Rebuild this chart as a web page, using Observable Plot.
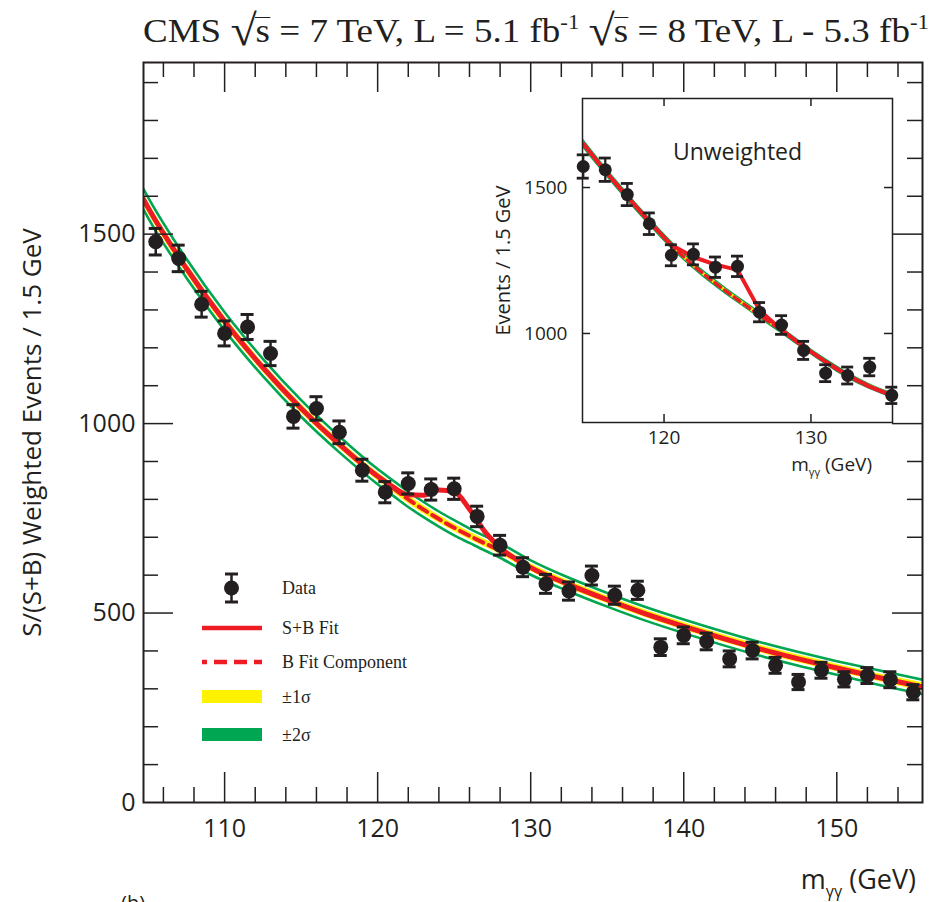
<!DOCTYPE html>
<html><head><meta charset="utf-8">
<script src="https://cdn.jsdelivr.net/npm/d3@7"></script>
<script src="https://cdn.jsdelivr.net/npm/@observablehq/plot@0.6"></script>
<style>
body{margin:0;background:#fff;}
#wrap{position:relative;width:937px;height:902px;overflow:hidden;background:#fff;}
#title{position:absolute;left:143px;top:8px;font-family:"Liberation Serif";font-size:34px;line-height:40px;white-space:nowrap;color:#231f20;transform-origin:0 0;}
#title sup{font-size:21px;vertical-align:13px;line-height:0;}
#title .r{font-size:44px;position:relative;top:3px;}
#title .ov{display:inline-block;border-top:1.6px solid #231f20;line-height:26px;margin-left:-1px;}
#main{position:absolute;left:0;top:56px;}
#inset{position:absolute;left:487px;top:88px;}
#b{position:absolute;left:121px;top:889px;font-family:"Open Sans";font-size:20px;color:#231f20;}
</style></head><body>
<div id="wrap">
<div id="title">CMS <span class="r">√</span><span class="ov">s</span> = 7 TeV, L = 5.1 fb<sup>-1</sup> <span class="r">√</span><span class="ov">s</span> = 8 TeV, L - 5.3 fb<sup>-1</sup></div>
<div id="main"></div>
<div id="inset"></div>
<div id="b">(b)</div>
</div>
<script>
// ---------- main panel data (S/(S+B) weighted) ----------
const binMass = [105.5,107,108.5,110,111.5,113,114.5,116,117.5,119,120.5,122,123.5,125,126.5,128,129.5,131,132.5,134,135.5,137,138.5,140,141.5,143,144.5,146,147.5,149,150.5,152,153.5,155];
const mainCounts = [1480,1436,1315,1238,1255,1185,1019,1040,977,877,819,842,826,828,755,679,621,577,558,599,547,560,410,441,425,379,401,362,318,349,325,335,324,291];
const mainErrors = [35,35,34,33,33,32,31,31,30,29,28,28,28,28,27,26,25,25,24,25,24,24,22,22,22,21,22,21,20,21,20,21,21,20];

const fitMass = [104.7,105,107.5,110,112.5,115,117.5,120,121,122,123,124,125,126,127,128,130,132.5,135,137.5,140,142.5,145,147.5,150,152.5,155,155.6];
const bFit   = [1592,1570,1410,1270,1148,1040,945,860,830,800,773,748,725,704,684,665,620,575,535,498,465,434,405,379,355,332,310,305];
const sbFit  = [1592,1570,1410,1270,1148,1040,945,861,833,812,811,825,820,774,715,673,620,575,535,498,465,434,405,379,355,332,310,305];
const sigma1 = [15,15,14,13,12,12,11,11,11,11,11,10,10,10,10,10,10,10,10,10,10,10,10,10,10,10,11,11];
const sigma2 = [27,27,25,24,23,22,21,20,20,20,20,20,20,19,19,19,19,18,18,18,18,18,18,18,18,19,19,19];

const xLabelTicks = [110,120,130,140,150];
const xMinorTicks = [106,108,112,114,116,118,122,124,126,128,132,134,136,138,142,144,146,148,152,154];
const yLabelTicks = [0,500,1000,1500];
const yMajorTicks = [500,1000,1500];
const yMinorTicks = [100,200,300,400,600,700,800,900,1100,1200,1300,1400,1600,1700,1800,1900];
const yTitle = "S/(S+B) Weighted Events / 1.5 GeV";

// ---------- inset data (unweighted) ----------
const insetMass   = [114.5,116,117.5,119,120.5,122,123.5,125,126.5,128,129.5,131,132.5,134,135.5];
const insetCounts = [1572,1561,1476,1376,1268,1271,1227,1230,1073,1029,942,864,856,885,788];
const insetErrors = [40,40,38,37,36,36,35,35,33,32,31,29,29,30,28];
const insetB      = [1650,1556,1468,1383,1303,1233,1172,1116,1063,1010,955,903,856,818,788];
const insetSB     = [1650,1556,1468,1383,1303,1262,1236,1218,1080,1012,955,903,856,818,788];
const insetS1     = [9,9,8,8,8,7,7,7,7,6,6,6,6,6,6];
const insetS2     = [16,15,15,14,14,13,13,12,12,12,11,11,11,10,10];
const insetXTicks = [120,130];
const insetYTicks = [1000,1500];

const red = "#ed1c24", yellow = "#fff200", green = "#00a651", ink = "#231f20";
const fmt = d3.format("d");

// ---------- title fit ----------
const tEl = document.getElementById("title");
const tw = tEl.getBoundingClientRect().width;
tEl.style.transform = `scaleX(${786 / tw})`;

// ---------- main plot ----------
const W = 937, H = 846, mT = 6, mL = 143, mR = 15, mB = 100;
const ph = H - mT - mB, pw = W - mL - mR;
const pts = binMass.map((m, i) => ({m, v: mainCounts[i], e: mainErrors[i]}));
const fit = fitMass.map((m, i) => ({m, b: bFit[i], sb: sbFit[i], s1: sigma1[i], s2: sigma2[i]}));
const cv = "monotone-x";

const main = Plot.plot({
  width: W, height: H, marginTop: mT, marginLeft: mL, marginRight: mR, marginBottom: mB,
  style: {fontFamily: "Open Sans", fontSize: "25px", color: ink, background: "transparent"},
  x: {domain: [104.7, 155.6]},
  y: {domain: [0, 1953]},
  marks: [
    Plot.areaY(fit, {x: "m", y1: d => d.b - d.s1, y2: d => d.b + d.s1, fill: yellow, curve: cv, clip: true}),
    Plot.line(fit, {x: "m", y: d => d.b + d.s2, stroke: green, strokeWidth: 2.6, curve: cv, clip: true}),
    Plot.line(fit, {x: "m", y: d => d.b - d.s2, stroke: green, strokeWidth: 2.6, curve: cv, clip: true}),
    Plot.line(fit, {x: "m", y: "b", stroke: red, strokeWidth: 4, strokeDasharray: "10,6", curve: cv, clip: true}),
    Plot.line(fit, {x: "m", y: "sb", stroke: red, strokeWidth: 5, curve: cv, clip: true}),
    Plot.ruleX(pts, {x: "m", y1: d => d.v - d.e, y2: d => d.v + d.e, stroke: ink, strokeWidth: 2.5}),
    Plot.ruleY(pts, {y: d => d.v + d.e, x1: "m", x2: "m", insetLeft: -6.5, insetRight: -6.5, stroke: ink, strokeWidth: 3}),
    Plot.ruleY(pts, {y: d => d.v - d.e, x1: "m", x2: "m", insetLeft: -6.5, insetRight: -6.5, stroke: ink, strokeWidth: 3}),
    Plot.dot(pts, {x: "m", y: "v", r: 7.5, fill: ink}),
    Plot.tickX(xLabelTicks, {x: d => d, insetTop: ph - 30, stroke: ink, strokeWidth: 1.5}),
    Plot.tickX(xLabelTicks, {x: d => d, insetBottom: ph - 30, stroke: ink, strokeWidth: 1.5}),
    Plot.tickX(xMinorTicks, {x: d => d, insetTop: ph - 15, stroke: ink, strokeWidth: 1.5}),
    Plot.tickX(xMinorTicks, {x: d => d, insetBottom: ph - 15, stroke: ink, strokeWidth: 1.5}),
    Plot.tickY(yMajorTicks, {y: d => d, insetRight: pw - 30, stroke: ink, strokeWidth: 1.5}),
    Plot.tickY(yMajorTicks, {y: d => d, insetLeft: pw - 30, stroke: ink, strokeWidth: 1.5}),
    Plot.tickY(yMinorTicks, {y: d => d, insetRight: pw - 15, stroke: ink, strokeWidth: 1.5}),
    Plot.tickY(yMinorTicks, {y: d => d, insetLeft: pw - 15, stroke: ink, strokeWidth: 1.5}),
    Plot.axisX({ticks: xLabelTicks, tickFormat: fmt, tickSize: 0, tickPadding: 17, label: null, fontSize: 25}),
    Plot.axisY({ticks: yLabelTicks, tickFormat: fmt, tickSize: 0, tickPadding: 8, label: null, fontSize: 25}),
    Plot.text([yTitle], {frameAnchor: "left", dx: -111, rotate: -90, textAnchor: "middle", lineAnchor: "middle", text: d => d, fontSize: 26, fill: ink}),
    Plot.frame({stroke: ink, strokeWidth: 2})
  ]
});
document.getElementById("main").appendChild(main);

const svg = d3.select(main);
// x axis title with subscript
const xt = svg.append("text").attr("x", 916).attr("y", 833).attr("text-anchor", "end")
  .attr("font-family", "Open Sans").attr("font-size", 27).attr("fill", ink);
xt.append("tspan").text("m");
xt.append("tspan").attr("font-size", 16).attr("dy", 8).text("γγ");
xt.append("tspan").attr("dy", -8).text(" (GeV)");

// legend
const lg = svg.append("g").attr("font-family", "Liberation Serif").attr("font-size", 18).attr("fill", ink).attr("text-anchor", "start");
const ly = [532, 572, 606, 641, 679];
lg.append("line").attr("x1", 231.5).attr("x2", 231.5).attr("y1", ly[0] - 14).attr("y2", ly[0] + 14).attr("stroke", ink).attr("stroke-width", 2.5);
lg.append("line").attr("x1", 225).attr("x2", 238).attr("y1", ly[0] - 14).attr("y2", ly[0] - 14).attr("stroke", ink).attr("stroke-width", 3);
lg.append("line").attr("x1", 225).attr("x2", 238).attr("y1", ly[0] + 14).attr("y2", ly[0] + 14).attr("stroke", ink).attr("stroke-width", 3);
lg.append("circle").attr("cx", 231.5).attr("cy", ly[0]).attr("r", 7.5).attr("fill", ink);
lg.append("line").attr("x1", 202).attr("x2", 262).attr("y1", ly[1]).attr("y2", ly[1]).attr("stroke", red).attr("stroke-width", 4.5);
lg.append("line").attr("x1", 202).attr("x2", 262).attr("y1", ly[2]).attr("y2", ly[2]).attr("stroke", red).attr("stroke-width", 4.5).attr("stroke-dasharray", "5,7,13,7,13,7,13");
lg.append("rect").attr("x", 202).attr("width", 60).attr("y", ly[3] - 7).attr("height", 13).attr("fill", yellow);
lg.append("rect").attr("x", 202).attr("width", 60).attr("y", ly[4] - 7).attr("height", 13).attr("fill", green);
const lt = ["Data", "S+B Fit", "B Fit Component", "±1σ", "±2σ"];
lt.forEach((t, i) => lg.append("text").attr("x", 282).attr("y", ly[i]).attr("dy", "0.35em").text(t));

// ---------- inset ----------
const ipts = insetMass.map((m, i) => ({m, v: insetCounts[i], e: insetErrors[i]}));
const ifit = insetMass.map((m, i) => ({m, b: insetB[i], sb: insetSB[i], s1: insetS1[i], s2: insetS2[i]}));
const iW = 415, iH = 400, imL = 95, imT = 10, imR = 10, imB = 66;
const iph = iH - imT - imB, ipw = iW - imL - imR;
const inset = Plot.plot({
  width: iW, height: iH, marginLeft: imL, marginTop: imT, marginRight: imR, marginBottom: imB,
  style: {fontFamily: "Open Sans", fontSize: "19px", color: ink, background: "transparent"},
  x: {domain: [114.45, 135.55]},
  y: {domain: [695, 1805]},
  marks: [
    Plot.frame({fill: "white"}),
    Plot.areaY(ifit, {x: "m", y1: d => d.b - d.s2, y2: d => d.b + d.s2, fill: green, curve: cv, clip: true}),
    Plot.areaY(ifit, {x: "m", y1: d => d.b - d.s1, y2: d => d.b + d.s1, fill: yellow, curve: cv, clip: true}),
    Plot.line(ifit, {x: "m", y: "b", stroke: red, strokeWidth: 3.5, strokeDasharray: "7,5", curve: cv, clip: true}),
    Plot.line(ifit, {x: "m", y: "sb", stroke: red, strokeWidth: 4, curve: "linear", clip: true}),
    Plot.tickX(insetXTicks, {x: d => d, insetTop: iph - 8, stroke: ink, strokeWidth: 1.5}),
    Plot.tickX(insetXTicks, {x: d => d, insetBottom: iph - 8, stroke: ink, strokeWidth: 1.5}),
    Plot.tickY(insetYTicks, {y: d => d, insetRight: ipw - 8, stroke: ink, strokeWidth: 1.5}),
    Plot.tickY(insetYTicks, {y: d => d, insetLeft: ipw - 8, stroke: ink, strokeWidth: 1.5}),
    Plot.axisX({ticks: insetXTicks, tickFormat: fmt, tickSize: 0, tickPadding: 8, label: null, fontSize: 19}),
    Plot.axisY({ticks: insetYTicks, tickFormat: fmt, tickSize: 0, tickPadding: 15, label: null, fontSize: 19}),
    Plot.text(["Events / 1.5 GeV"], {frameAnchor: "left", dx: -79, rotate: -90, textAnchor: "middle", lineAnchor: "middle", text: d => d, fontSize: 20, fill: ink}),
    Plot.text(["Unweighted"], {frameAnchor: "top", dy: 54, lineAnchor: "middle", textAnchor: "middle", text: d => d, fontSize: 23, fill: ink}),
    Plot.frame({stroke: ink, strokeWidth: 1.5}),
    Plot.ruleX(ipts, {x: "m", y1: d => d.v - d.e, y2: d => d.v + d.e, stroke: ink, strokeWidth: 2.3}),
    Plot.ruleY(ipts, {y: d => d.v + d.e, x1: "m", x2: "m", insetLeft: -6, insetRight: -6, stroke: ink, strokeWidth: 2.8}),
    Plot.ruleY(ipts, {y: d => d.v - d.e, x1: "m", x2: "m", insetLeft: -6, insetRight: -6, stroke: ink, strokeWidth: 2.8}),
    Plot.dot(ipts, {x: "m", y: "v", r: 6.5, fill: ink})
  ]
});
document.getElementById("inset").appendChild(inset);
const isvg = d3.select(inset);
const ixt = isvg.append("text").attr("x", 385).attr("y", 383).attr("text-anchor", "end")
  .attr("font-family", "Open Sans").attr("font-size", 19).attr("fill", ink);
ixt.append("tspan").text("m");
ixt.append("tspan").attr("font-size", 11).attr("dy", 5).text("γγ");
ixt.append("tspan").attr("dy", -5).text(" (GeV)");
</script>
</body></html>
